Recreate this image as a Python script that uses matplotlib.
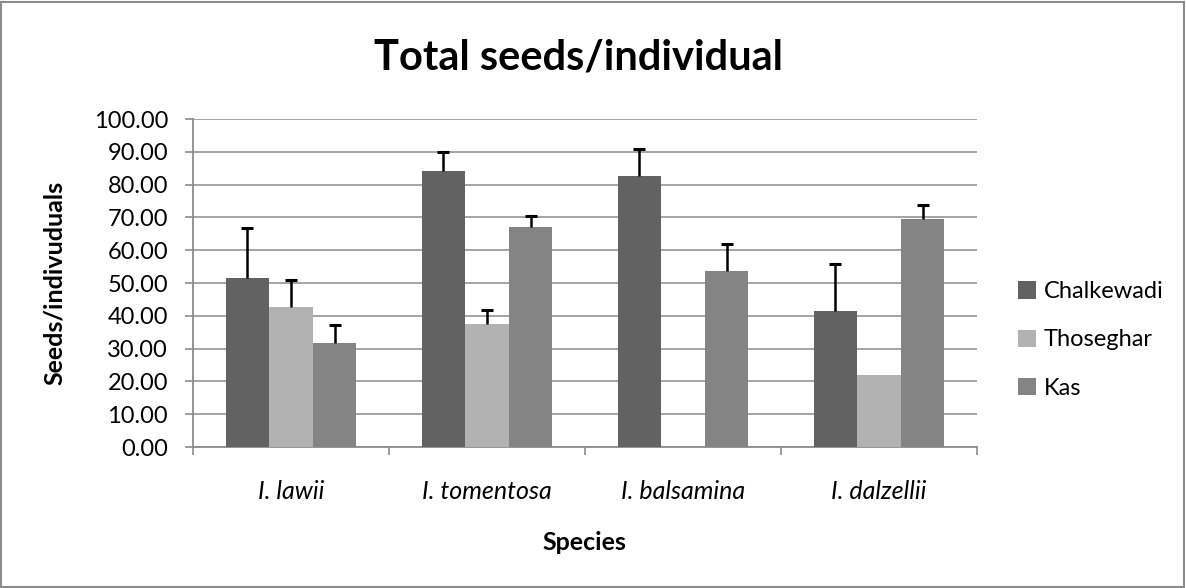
import numpy as np
import matplotlib.pyplot as plt
from matplotlib.patches import Rectangle

species = ['I. lawii', 'I. tomentosa', 'I. balsamina', 'I. dalzellii']
sites = ['Chalkewadi', 'Thoseghar', 'Kas']
chalkewadi = [51.5, 84.2, 82.7, 41.4]
thoseghar = [42.7, 37.5, 0.0, 22.0]
kas = [31.7, 67.0, 53.8, 69.4]
chalkewadi_err = [15.2, 5.7, 8.2, 14.3]
thoseghar_err = [8.3, 4.3, 0.0, 0.0]
kas_err = [5.6, 3.5, 8.2, 4.4]
yticks = np.arange(0, 101, 10)

colors = ['#626262', '#b2b2b2', '#848484']
grey = '#8c8c8c'

plt.rcParams['font.family'] = ['Lato', 'DejaVu Sans']

W, H = 1186, 588
fig = plt.figure(figsize=(W / 100, H / 100), dpi=100)
ax = fig.add_axes([193 / W, 1 - 447 / H, 784 / W, 328 / H])

x = np.arange(len(species))
w = 1 / 4.5
series = [(chalkewadi, chalkewadi_err), (thoseghar, thoseghar_err), (kas, kas_err)]
for i, (vals, errs) in enumerate(series):
    pos = x + (i - 1) * w
    ax.bar(pos, vals, w, color=colors[i], label=sites[i], zorder=3)
    vals = np.array(vals)
    errs = np.array(errs)
    m = errs > 0
    # only the upward half of the error bar, like the original
    eb = ax.errorbar(pos[m], vals[m], yerr=[np.zeros(m.sum()), errs[m]], fmt='none',
                     ecolor='black', elinewidth=1.8, capsize=4, capthick=2.2, zorder=4)
    eb[1][0].set_visible(False)

ax.set_xlim(-0.5, len(species) - 0.5)
ax.set_ylim(0, 100)
ax.set_yticks(yticks)
ax.set_yticklabels([f'{v:.2f}' for v in yticks], fontsize=17)
ax.yaxis.grid(True, color=grey, linewidth=1.1, zorder=0)
ax.tick_params(axis='y', length=6, color=grey, width=1.2, pad=12)

ax.set_xticks(np.arange(-0.5, len(species)))
ax.set_xticklabels([])
ax.set_xticks(x, minor=True)
ax.set_xticklabels(species, minor=True, fontsize=18, style='italic')
ax.tick_params(axis='x', which='major', length=6, color=grey, width=1.2)
ax.tick_params(axis='x', which='minor', length=0, pad=24)

for s in ['top', 'right']:
    ax.spines[s].set_visible(False)
for s in ['left', 'bottom']:
    ax.spines[s].set_color(grey)
    ax.spines[s].set_linewidth(1.3)

fig.text(54 / W, 1 - 283 / H, 'Seeds/indivuduals', rotation=90, fontsize=18,
         fontweight='bold', ha='center', va='center')
fig.text(584 / W, 1 - 543 / H, 'Species', fontsize=18, fontweight='bold',
         ha='center', va='center')
fig.text(579 / W, 1 - 58 / H, 'Total seeds/individual', fontsize=30, fontweight='bold',
         ha='center', va='center')

ax.legend(loc='center left', bbox_to_anchor=(1018 / W, 1 - 340 / H),
          bbox_transform=fig.transFigure, frameon=False, fontsize=17,
          handlelength=0.75, handleheight=0.75, labelspacing=1.15,
          handletextpad=0.35, borderpad=0, borderaxespad=0)

fig.patches.append(Rectangle((0.001, 0.002), 0.997, 0.995, transform=fig.transFigure,
                             fill=False, edgecolor=grey, linewidth=1.5))

fig.savefig('out.png', dpi=100)
